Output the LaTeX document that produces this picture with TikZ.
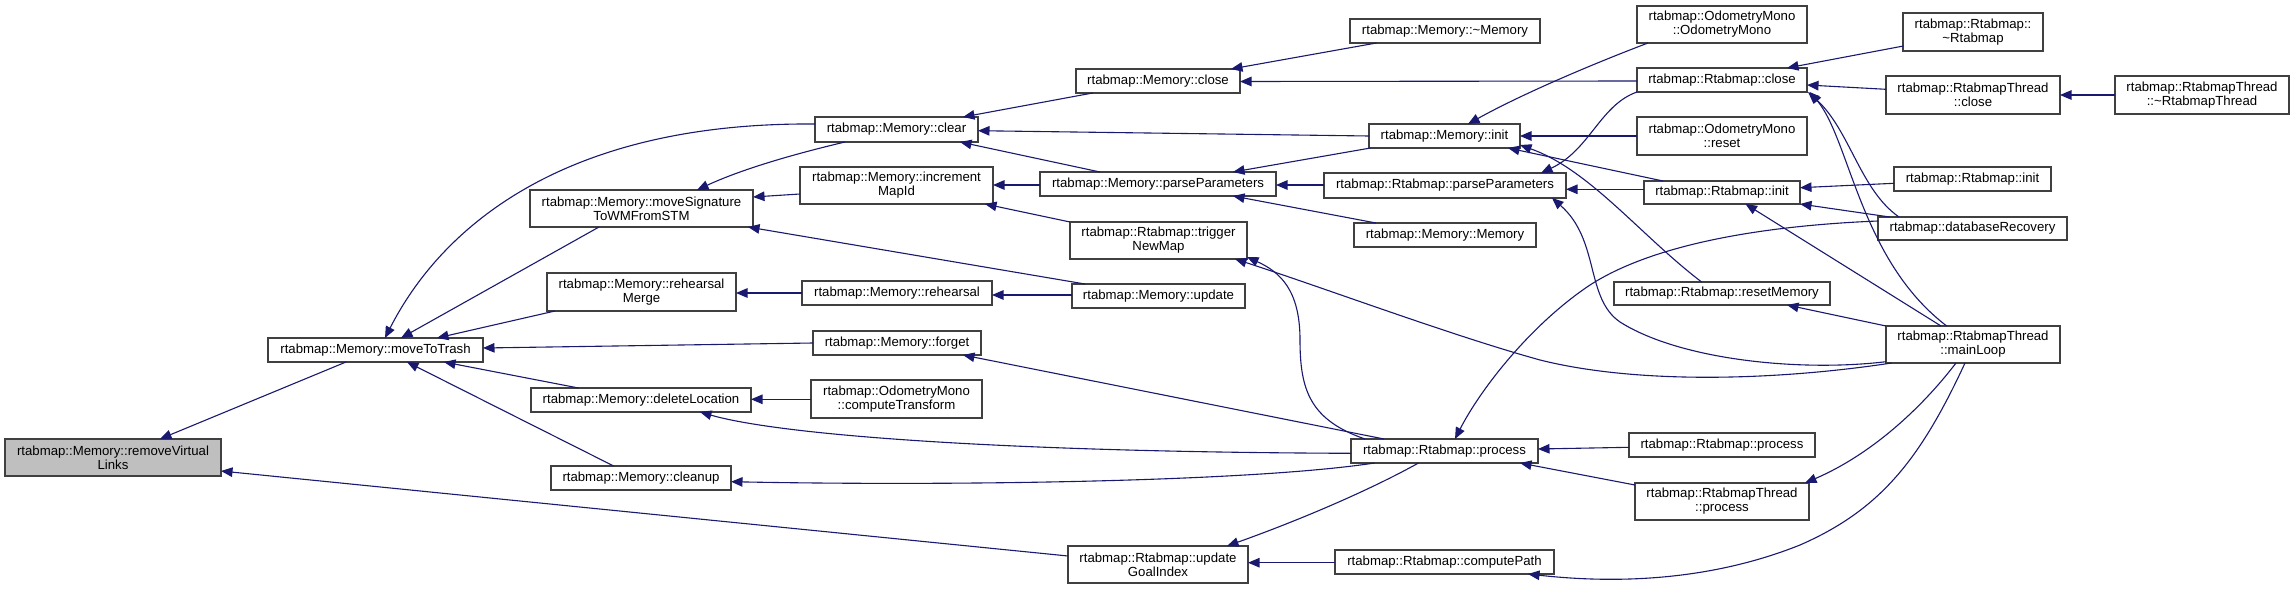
\documentclass[tikz,border=0pt]{standalone}
\usepackage{fontspec}
\setmainfont{Liberation Sans}
\usetikzlibrary{arrows.meta,calc}
\definecolor{edgecol}{HTML}{191970}
\definecolor{rootfill}{HTML}{BFBFBF}
\definecolor{boxline}{HTML}{404040}
\tikzset{
  gbox/.style={draw=boxline, line width=1.3pt, fill=white, inner sep=0pt, align=center,
    font=\fontsize{13.2}{14}\selectfont},
  edge/.style={draw=edgecol, line width=1.1pt, -{Triangle[length=11.5pt,width=9.5pt,fill=edgecol]}}
}
\newcommand{\gnode}[7][]{\node[gbox,#1,minimum width={#5-#3},minimum height={#6-#4}] (#2) at ({(#3+#5)/2},{(#4+#6)/2}) {#7};}
\begin{document}
\begin{tikzpicture}[x=1pt,y=-1pt]
\fill[white] (0,0) rectangle (2295,589);
\useasboundingbox (0,0) rectangle (2295,589);
% nodes
\gnode[fill=rootfill]{rvl}{5}{439}{221}{476}{rtabmap::Memory::removeVirtual\\Links}
\gnode{mtt}{268}{338}{483}{362}{rtabmap::Memory::moveToTrash}
\gnode{msig}{530}{190}{753}{227}{rtabmap::Memory::moveSignature\\ToWMFromSTM}
\gnode{rmerge}{547}{273}{736}{311}{rtabmap::Memory::rehearsal\\Merge}
\gnode{dloc}{531}{388}{751}{412}{rtabmap::Memory::deleteLocation}
\gnode{cln}{551}{466}{731}{490}{rtabmap::Memory::cleanup}
\gnode{clear}{815}{117}{978}{142}{rtabmap::Memory::clear}
\gnode{incr}{800}{167}{993}{204}{rtabmap::Memory::increment\\MapId}
\gnode{reh}{802}{281}{992}{305}{rtabmap::Memory::rehearsal}
\gnode{forget}{813}{331}{981}{355}{rtabmap::Memory::forget}
\gnode{ctf}{811}{380}{982}{418}{rtabmap::OdometryMono\\::computeTransform}
\gnode{ugi}{1068}{546}{1248}{583}{rtabmap::Rtabmap::update\\GoalIndex}
\gnode{mclose}{1076}{69}{1240}{93}{rtabmap::Memory::close}
\gnode{mpp}{1040}{172}{1276}{196}{rtabmap::Memory::parseParameters}
\gnode{tnm}{1070}{222}{1247}{259}{rtabmap::Rtabmap::trigger\\NewMap}
\gnode{mupd}{1072}{284}{1245}{308}{rtabmap::Memory::update}
\gnode{proc}{1351}{439}{1538}{463}{rtabmap::Rtabmap::process}
\gnode{cpath}{1335}{550}{1554}{574}{rtabmap::Rtabmap::computePath}
\gnode{mdtor}{1350}{19}{1540}{43}{rtabmap::Memory::\textasciitilde Memory}
\gnode{minit}{1369}{124}{1520}{148}{rtabmap::Memory::init}
\gnode{rpp}{1324}{173}{1566}{198}{rtabmap::Rtabmap::parseParameters}
\gnode{mmem}{1354}{223}{1536}{247}{rtabmap::Memory::Memory}
\gnode{omono}{1637}{6}{1807}{43}{rtabmap::OdometryMono\\::OdometryMono}
\gnode{rclose}{1637}{68}{1807}{92}{rtabmap::Rtabmap::close}
\gnode{oreset}{1637}{117}{1807}{155}{rtabmap::OdometryMono\\::reset}
\gnode{rinit}{1644}{181}{1800}{204}{rtabmap::Rtabmap::init}
\gnode{rmem}{1614}{282}{1830}{305}{rtabmap::Rtabmap::resetMemory}
\gnode{rproc}{1629}{433}{1815}{457}{rtabmap::Rtabmap::process}
\gnode{tproc}{1635}{483}{1809}{520}{rtabmap::RtabmapThread\\::process}
\gnode{rdtor}{1903}{13}{2043}{51}{rtabmap::Rtabmap::\\\textasciitilde Rtabmap}
\gnode{tclose}{1886}{76}{2060}{114}{rtabmap::RtabmapThread\\::close}
\gnode{tdtor}{2115}{76}{2289}{114}{rtabmap::RtabmapThread\\::\textasciitilde RtabmapThread}
\gnode{rinit2}{1894}{167}{2051}{191}{rtabmap::Rtabmap::init}
\gnode{dbrec}{1878}{217}{2067}{240}{rtabmap::databaseRecovery}
\gnode{mloop}{1886}{326}{2060}{363}{rtabmap::RtabmapThread\\::mainLoop}
% edges
\draw[edge] ($(mtt)+(-29.5,12)$) -- ($(rvl)+(47,-18.5)$);
\draw[edge] ($(ugi)+(-90,-8.5)$) -- ($(rvl)+(108,13.5)$);
\draw[edge] ($(clear)+(-81.5,-5.5)$) .. controls (560,122) and (440,230) .. ($(mtt)+(9.5,-12)$);
\draw[edge] ($(msig)+(-42.5,18.5)$) -- ($(mtt)+(25.5,-12)$);
\draw[edge] ($(rmerge)+(-86.5,19)$) -- ($(mtt)+(61.5,-12)$);
\draw[edge] ($(forget)+(-84,0)$) -- ($(mtt)+(107.5,-2)$);
\draw[edge] ($(dloc)+(-62.5,-12)$) -- ($(mtt)+(68.5,12)$);
\draw[edge] ($(cln)+(-27.4,-12)$) -- ($(mtt)+(31.5,12)$);
\draw[edge] ($(clear)+(-51.5,12.5)$) .. controls (790,155) and (740,170) .. ($(msig)+(55.5,-18.5)$);
\draw[edge] ($(incr)+(-96.5,8.5)$) -- ($(msig)+(111.5,-11.5)$);
\draw[edge] ($(mupd)+(-73.5,-12)$) -- ($(msig)+(106.5,18.5)$);
\draw[edge] ($(reh)+(-95,0)$) -- ($(rmerge)+(94.5,1)$);
\draw[edge] ($(mupd)+(-86.5,-1)$) -- ($(reh)+(95,2)$);
\draw[edge] ($(mclose)+(-65.3,12)$) -- ($(clear)+(66.5,-12.5)$);
\draw[edge] ($(minit)+(-75.5,0)$) -- ($(clear)+(81.5,1.2)$);
\draw[edge] ($(mpp)+(-58,-12)$) -- ($(clear)+(63.5,12.5)$);
\draw[edge] ($(mpp)+(-118,1)$) -- ($(incr)+(96.5,-0.5)$);
\draw[edge] ($(tnm)+(-88.5,-18.5)$) -- ($(incr)+(88.5,18.5)$);
\draw[edge] ($(proc)+(-60.5,-12)$) -- ($(forget)+(66,12)$);
\draw[edge] ($(ctf)+(-85.5,0.3)$) -- ($(dloc)+(110,-0.7)$);
\draw[edge] ($(proc)+(-93.5,2.3)$) .. controls (1000,452) and (780,435) .. ($(dloc)+(59,12)$);
\draw[edge] ($(proc)+(-70,12)$) .. controls (1250,482) and (950,486) .. ($(cln)+(90,3.7)$);
\draw[edge] ($(proc)+(-26,12)$) .. controls (1370,490) and (1300,520) .. ($(ugi)+(69,-18.5)$);
\draw[edge] ($(cpath)+(-109.5,0.7)$) -- ($(ugi)+(90,-1.8)$);
\draw[edge] ($(mdtor)+(-68.6,12)$) -- ($(mclose)+(73,-12)$);
\draw[edge] ($(rclose)+(-85,1)$) -- ($(mclose)+(82,0.5)$);
\draw[edge] ($(minit)+(-74,12)$) -- ($(mpp)+(75,-12)$);
\draw[edge] ($(rpp)+(-121,-0.5)$) -- ($(mpp)+(118,1)$);
\draw[edge] ($(mmem)+(-69,-12)$) -- ($(mpp)+(75,12)$);
\draw[edge] ($(proc)+(-79.5,-12)$) .. controls (1310,420) and (1300,390) .. (1300,340) .. controls (1300,290) and (1280,272) .. ($(tnm)+(88.5,16.5)$);
\draw[edge] ($(mloop)+(-81.4,18.5)$) .. controls (1780,380) and (1640,385) .. (1540,360) .. controls (1450,335) and (1330,290) .. ($(tnm)+(76.5,18.5)$);
\draw[edge] ($(omono)+(-74,18.5)$) .. controls (1590,65) and (1520,95) .. ($(minit)+(23.5,-12)$);
\draw[edge] ($(oreset)+(-85,0)$) -- ($(minit)+(75.5,0)$);
\draw[edge] ($(rinit)+(-59,-11.5)$) -- ($(minit)+(63.5,12)$);
\draw[edge] ($(rmem)+(-20.4,-11.5)$) .. controls (1640,235) and (1590,170) .. ($(minit)+(75.5,9)$);
\draw[edge] ($(rclose)+(-85,12)$) .. controls (1600,105) and (1590,150) .. ($(rpp)+(96,-12.5)$);
\draw[edge] ($(rinit)+(-78,-3.2)$) -- ($(rpp)+(121,3.8)$);
\draw[edge] ($(mloop)+(-87,17.2)$) .. controls (1800,372) and (1680,360) .. (1620,322) .. controls (1585,298) and (1600,240) .. ($(rpp)+(107,12.5)$);
\draw[edge] ($(rproc)+(-93,2.3)$) -- ($(proc)+(93.5,-2)$);
\draw[edge] ($(tproc)+(-87,-16.5)$) -- ($(proc)+(75.5,12)$);
\draw[edge] ($(dbrec)+(-94.5,-7.5)$) .. controls (1780,225) and (1660,240) .. (1590,285) .. controls (1530,325) and (1480,390) .. ($(proc)+(10.5,-12)$);
\draw[edge] ($(mloop)+(-8,18.5)$) .. controls (1920,460) and (1880,510) .. (1800,545) .. controls (1700,585) and (1600,582) .. ($(cpath)+(83.5,12)$);
\draw[edge] ($(rdtor)+(-69.6,14)$) -- ($(rclose)+(65,-12)$);
\draw[edge] ($(tclose)+(-87,-5.7)$) -- ($(rclose)+(85,5)$);
\draw[edge] ($(dbrec)+(-73.5,-11.5)$) .. controls (1860,190) and (1850,130) .. ($(rclose)+(86,12)$);
\draw[edge] ($(mloop)+(-26.3,-18.5)$) .. controls (1860,260) and (1850,140) .. ($(rclose)+(88,12)$);
\draw[edge] ($(tdtor)+(-87,0)$) -- ($(tclose)+(87,0)$);
\draw[edge] ($(rinit2)+(-78.5,4.3)$) -- ($(rinit)+(78,-4.8)$);
\draw[edge] ($(dbrec)+(-82.8,-11.5)$) -- ($(rinit)+(78,11.5)$);
\draw[edge] ($(mloop)+(-32,-18.5)$) -- ($(rinit)+(23.5,11.5)$);
\draw[edge] ($(mloop)+(-87,-18.5)$) -- ($(rmem)+(65,11.5)$);
\draw[edge] ($(mloop)+(-17,18.5)$) .. controls (1920,410) and (1870,455) .. ($(tproc)+(83,-18.5)$);
\end{tikzpicture}
\end{document}
